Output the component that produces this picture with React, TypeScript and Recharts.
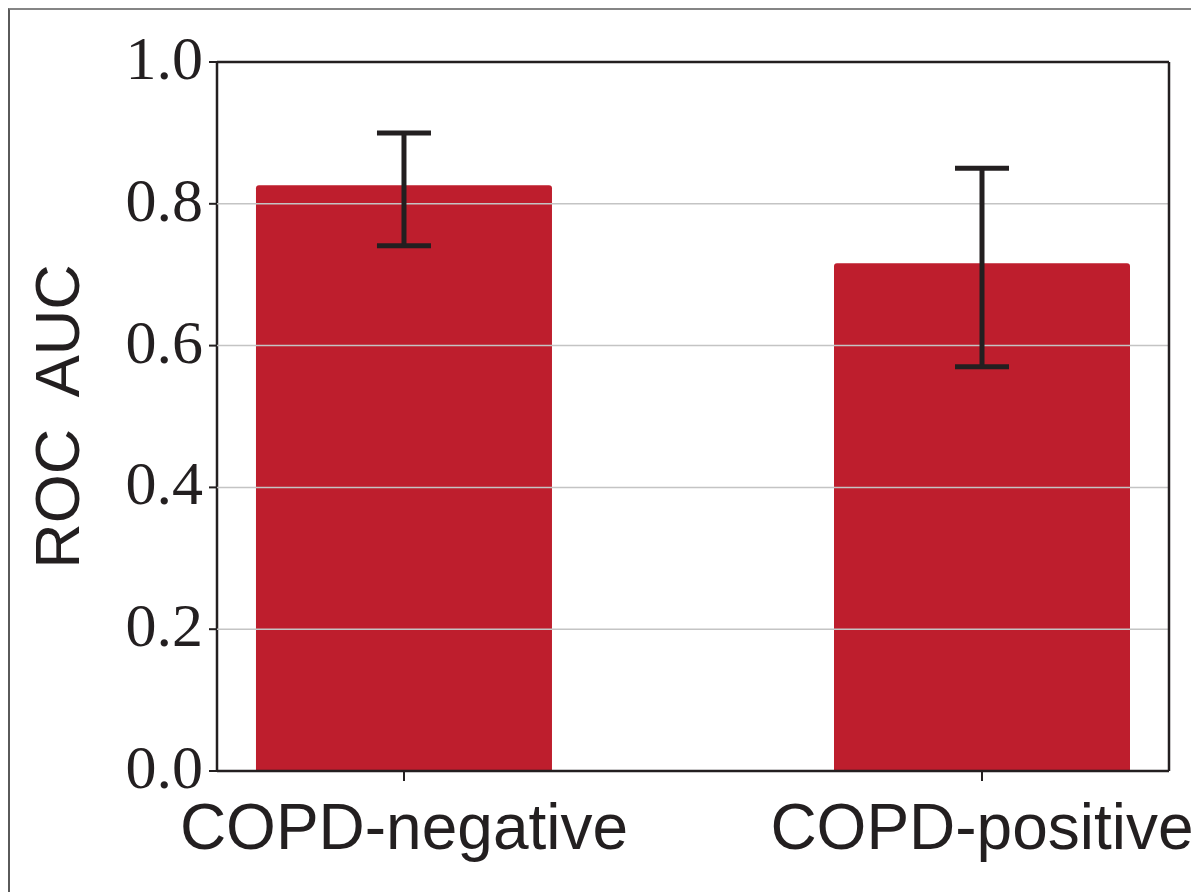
import React from 'react';
import {
    BarChart, Bar, XAxis, YAxis, ErrorBar, ReferenceLine
} from 'recharts';

const categories = ['COPD-negative', 'COPD-positive'];
const aucValues = [0.826, 0.716];
const ciLower = [0.741, 0.570];
const ciUpper = [0.900, 0.850];
const yTicks = [0.0, 0.2, 0.4, 0.6, 0.8, 1.0];
const gridValues = [0.2, 0.4, 0.6, 0.8];
const xDomain: [number, number] = [-0.3235, 1.3235];
const yDomain: [number, number] = [0, 1];

const data = categories.map((name, i) => ({
    idx: i,
    name,
    auc: aucValues[i],
    err: [aucValues[i] - ciLower[i], ciUpper[i] - aucValues[i]],
}));

const INK = '#231f20';
const RED = '#be1e2d';
const W = 1189;
const H = 882;

const YTick = (props: any) => {
    const { x, y, payload } = props;
    return (
        <text x={x} y={y} dy={17} textAnchor="end" fill={INK}
            fontFamily="'Liberation Serif', 'Times New Roman', serif" fontSize={62}>
            {payload.value.toFixed(1)}
        </text>
    );
};

const XTick = (props: any) => {
    const { x, y, payload } = props;
    return (
        <text x={x} y={y} dy={68} textAnchor="middle" fill={INK}
            fontFamily="'Liberation Sans', Arial, sans-serif" fontSize={64}>
            {categories[payload.value]}
        </text>
    );
};

const YLabel = (props: any) => {
    const { viewBox } = props;
    const cx = 47;
    const cy = viewBox.y + viewBox.height / 2;
    return (
        <text x={cx} y={cy} transform={`rotate(-90 ${cx} ${cy})`} textAnchor="middle"
            dominantBaseline="central" fill={INK} style={{ whiteSpace: 'pre' }}
            fontFamily="'Liberation Sans', Arial, sans-serif" fontSize={63}>
            ROC  AUC
        </text>
    );
};

export default function App() {
    return (
        <div style={{ borderTop: '2px solid #858585', borderLeft: '2px solid #5a5a5a', width: 1191, height: 884 }}>
            <div style={{ position: 'relative', width: W, height: H }}>
                {/* base: bars and left/bottom axes */}
                <BarChart width={W} height={H} data={data}
                    margin={{ top: 52, right: 30, bottom: 0, left: 0 }}>
                    <XAxis dataKey="idx" type="number" domain={xDomain} ticks={[0, 1]}
                        height={121} tick={<XTick />} tickSize={10} tickMargin={0}
                        axisLine={{ stroke: INK, strokeWidth: 2.5 }} tickLine={{ stroke: INK, strokeWidth: 2 }}
                        allowDecimals={false} />
                    <YAxis domain={yDomain} ticks={yTicks} width={207} tick={<YTick />}
                        tickSize={8} tickMargin={6} interval={0}
                        axisLine={{ stroke: INK, strokeWidth: 2.5 }} tickLine={{ stroke: INK, strokeWidth: 2 }}
                        label={<YLabel />} />
                    <Bar dataKey="auc" fill={RED} barSize={296} radius={[3, 3, 0, 0]} isAnimationActive={false} />
                </BarChart>
                {/* overlay: grid on top of bars, error bars, top/right frame */}
                <div style={{ position: 'absolute', left: 0, top: 0, pointerEvents: 'none' }}>
                    <BarChart width={W} height={H} data={data}
                        margin={{ top: 52, right: 30, bottom: 121, left: 207 }}>
                        <XAxis dataKey="idx" type="number" domain={xDomain} hide />
                        <YAxis domain={yDomain} hide />
                        {gridValues.map(v => (
                            <ReferenceLine key={v} y={v} stroke="#c4c4c4" strokeWidth={1.5} />
                        ))}
                        <ReferenceLine y={yDomain[1]} stroke={INK} strokeWidth={2.5} />
                        <ReferenceLine x={xDomain[1]} stroke={INK} strokeWidth={2.5} />
                        <Bar dataKey="auc" fill="none" barSize={296} isAnimationActive={false}>
                            <ErrorBar dataKey="err" direction="y" width={27} strokeWidth={5} stroke={INK} />
                        </Bar>
                    </BarChart>
                </div>
            </div>
        </div>
    );
}
